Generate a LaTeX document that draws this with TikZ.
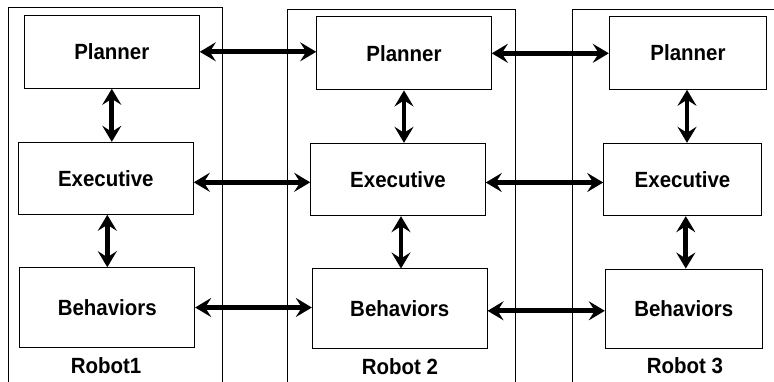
\documentclass[tikz,border=0pt]{standalone}
\usepackage{fontspec}
\setmainfont[FakeStretch=0.93]{Liberation Sans}
\usetikzlibrary{arrows.meta}
\begin{document}
\begin{tikzpicture}[x=1pt,y=-1pt,
  layerbox/.style={draw=black,line width=1pt,fill=white,inner sep=0pt,
    font=\fontsize{22}{26}\selectfont\bfseries},
  robotlabel/.style={inner sep=0pt,font=\fontsize{22}{26}\selectfont\bfseries},
  frame/.style={draw=black,line width=1pt},
  link/.style={line width=4.8pt,{Stealth[length=16pt,width=19pt,inset=6pt]}-{Stealth[length=16pt,width=19pt,inset=6pt]}}
]
\useasboundingbox (0,0) rectangle (774,381);

% robot frames (open at the bottom)
\draw[frame] (8.7,395) -- (8.7,7.3) -- (222,7.3) -- (222,395);
\draw[frame] (287.3,395) -- (287.3,9) -- (515,9) -- (515,395);
\draw[frame] (572.3,395) -- (572.3,9) -- (790,9);

% Robot 1
\node[layerbox,minimum width=175pt,minimum height=73pt] (P1) at (111.8,51.8) {Planner};
\node[layerbox,minimum width=175pt,minimum height=72pt] (E1) at (105.8,178.3) {Executive};
\node[layerbox,minimum width=174.7pt,minimum height=79.6pt] (B1) at (107.3,307.5) {Behaviors};
\node[robotlabel] (L1) at (106,365.3) {Robot1};

% Robot 2
\node[layerbox,minimum width=174.6pt,minimum height=73.3pt] (P2) at (404,53.3) {Planner};
\node[layerbox,minimum width=174.6pt,minimum height=72.4pt] (E2) at (398,179.5) {Executive};
\node[layerbox,minimum width=174.7pt,minimum height=79.7pt] (B2) at (399.7,308.8) {Behaviors};
\node[robotlabel] (L2) at (400,366.5) {Robot 2};

% Robot 3
\node[layerbox,minimum width=157.4pt,minimum height=72.6pt] (P3) at (688,53) {Planner};
\node[layerbox,minimum width=157.6pt,minimum height=72.4pt] (E3) at (682.5,179.5) {Executive};
\node[layerbox,minimum width=157pt,minimum height=79.3pt] (B3) at (683.8,308.7) {Behaviors};
\node[robotlabel] (L3) at (685,366) {Robot 3};

% links inside each robot
\draw[link] (P1.south) -- (P1.south |- E1.north);
\draw[link] (B1.north) -- (B1.north |- E1.south);
\draw[link] (P2.south) -- (P2.south |- E2.north);
\draw[link] ([xshift=3pt]E2.south) -- ([xshift=3pt]E2.south |- B2.north);
\draw[link] ([xshift=-1pt]P3.south) -- ([xshift=-1pt]P3.south |- E3.north);
\draw[link] ([xshift=2pt]B3.north) -- ([xshift=2pt]B3.north |- E3.south);

% links between robots
\draw[link] (P1.east) -- (P1.east -| P2.west);
\draw[link] ([yshift=-4pt]E1.east) -- ([yshift=-4pt]E1.east -| E2.west);
\draw[link] (B1.east) -- (B1.east -| B2.west);
\draw[link] (P2.east) -- (P2.east -| P3.west);
\draw[link] ([yshift=-3pt]E2.east) -- ([yshift=-3pt]E2.east -| E3.west);
\draw[link] ([yshift=-2pt]B2.east) -- ([yshift=-2pt]B2.east -| B3.west);
\end{tikzpicture}
\end{document}
